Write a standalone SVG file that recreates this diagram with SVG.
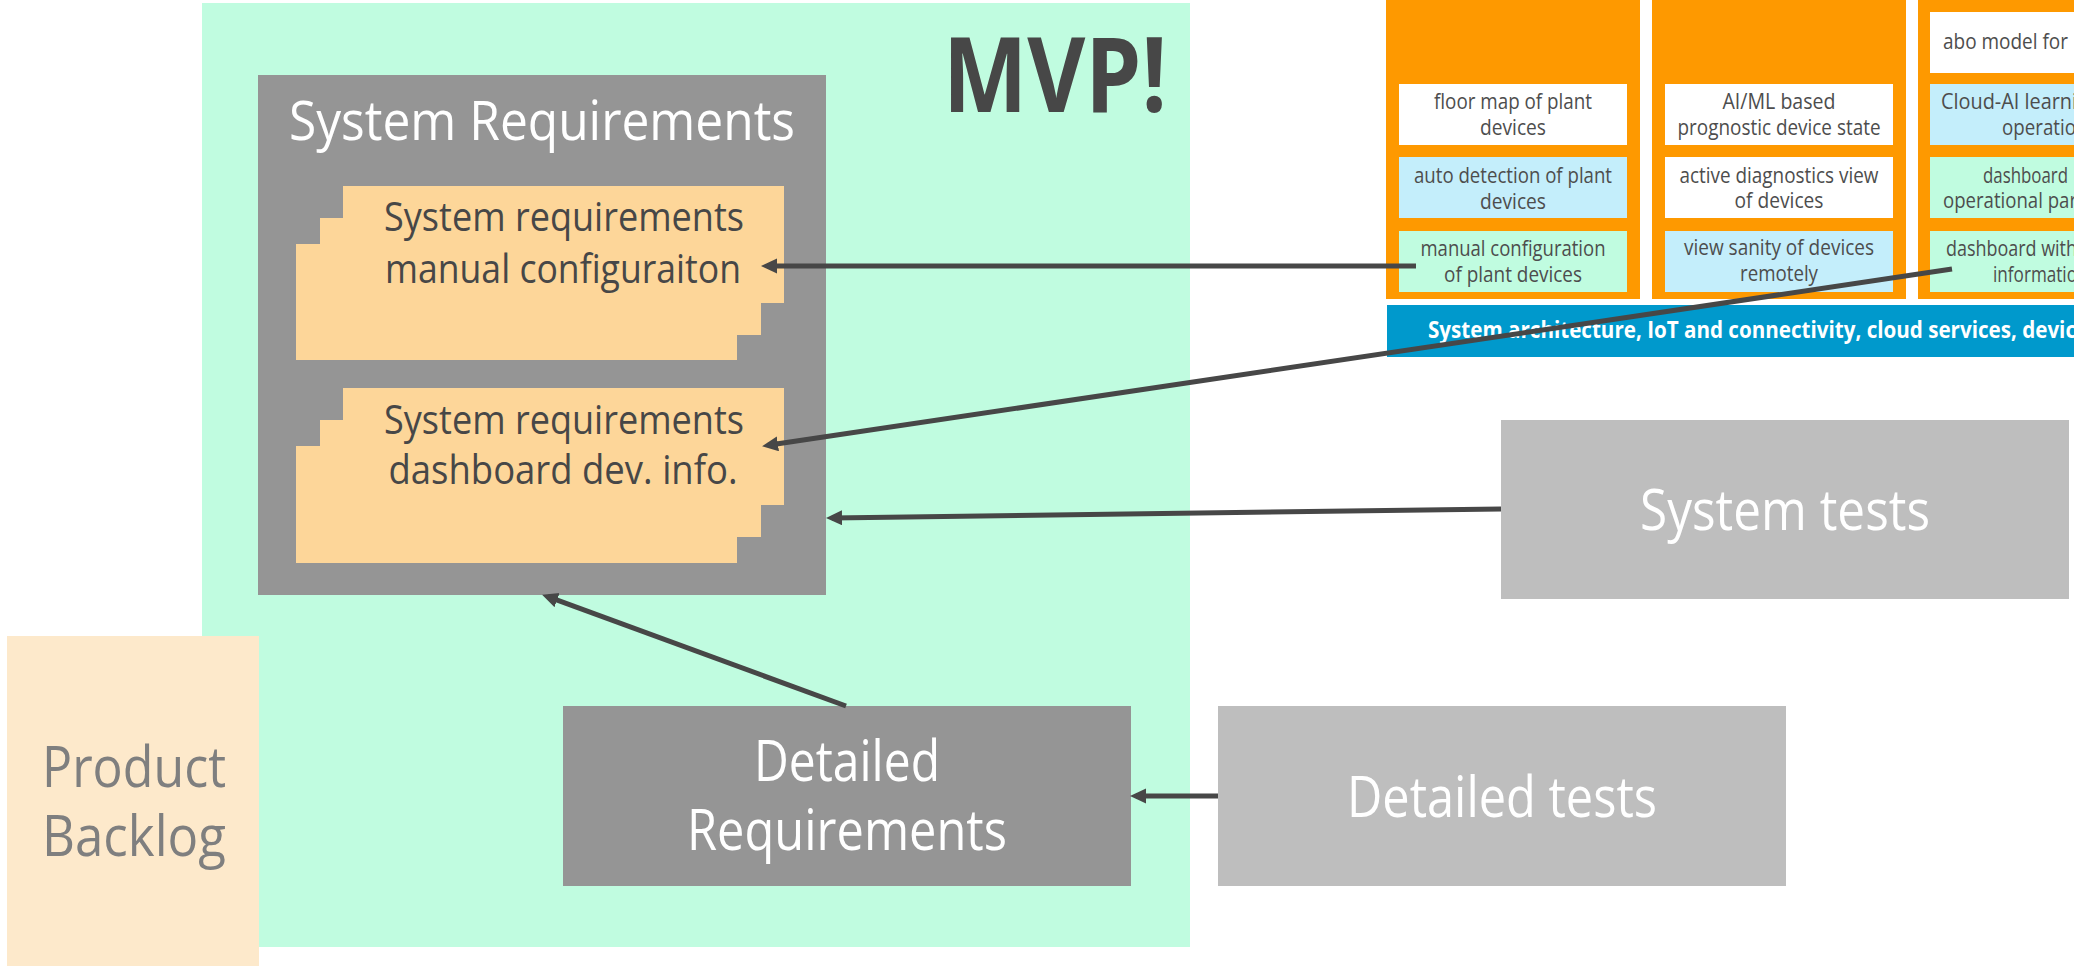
<svg xmlns="http://www.w3.org/2000/svg" width="2074" height="966" viewBox="0 0 2074 966">
<defs>
<style>
.t{font-family:"Open Sans","Liberation Sans",sans-serif;}
.sm{font-family:"Open Sans","Liberation Sans",sans-serif;font-size:21px;fill:#4d4d4d;}
.smc{font-family:"Open Sans","Liberation Sans",sans-serif;font-size:21px;fill:#4d4d4d;text-anchor:middle;}
.blk{font-family:"Open Sans","Liberation Sans",sans-serif;font-size:40px;fill:#474747;text-anchor:middle;}
.lbl{font-family:"Open Sans","Liberation Sans",sans-serif;font-size:57px;fill:#ffffff;text-anchor:middle;}
.conn{stroke:#474747;stroke-width:5;fill:none;marker-end:url(#ah);}
.white{fill:#ffffff;}
.lblue{fill:#c4eefb;}
.mint{fill:#c0fce0;}
.orange{fill:#fe9900;}
.gray{fill:#959595;}
.lgray{fill:#bebebe;}
.peach{fill:#fdd699;}
</style>
<marker id="ah" markerUnits="userSpaceOnUse" markerWidth="18" markerHeight="16" refX="10" refY="7.5" orient="auto">
<path d="M0,0 L16,7.5 L0,15 z" fill="#474747"/>
</marker>
</defs>
<rect width="2074" height="966" fill="#ffffff"/>

<g id="mvp">
<rect x="202" y="3" width="988" height="944" class="mint"/>
<text x="1055" y="112" class="t" font-size="104" font-weight="bold" fill="#474747" text-anchor="middle" textLength="224" lengthAdjust="spacingAndGlyphs">MVP!</text>
</g>

<g id="product-backlog">
<rect x="7" y="636" width="252" height="330" fill="#fde9cb"/>
<text x="134" y="787" class="t" font-size="57" fill="#7f7f7f" text-anchor="middle" textLength="184" lengthAdjust="spacingAndGlyphs">Product</text>
<text x="134" y="856" class="t" font-size="57" fill="#7f7f7f" text-anchor="middle" textLength="184" lengthAdjust="spacingAndGlyphs">Backlog</text>
</g>

<g id="system-requirements">
<rect x="258" y="75" width="568" height="520" class="gray"/>
<text x="542" y="140" class="t" font-size="55" fill="#ffffff" text-anchor="middle" textLength="506" lengthAdjust="spacingAndGlyphs">System Requirements</text>
</g>

<g id="sysreq-manual-config">
<polygon points="343,186 784,186 784,303 761,303 761,335 737,335 737,360 296,360 296,244 320,244 320,218 343,218" class="peach"/>
<text x="564" y="231" class="blk" textLength="360" lengthAdjust="spacingAndGlyphs">System requirements</text>
<text x="563" y="283" class="blk" textLength="356" lengthAdjust="spacingAndGlyphs">manual configuraiton</text>
</g>

<g id="sysreq-dashboard">
<polygon points="343,388 784,388 784,505 761,505 761,537 737,537 737,563 296,563 296,446 320,446 320,420 343,420" class="peach"/>
<text x="564" y="434" class="blk" textLength="360" lengthAdjust="spacingAndGlyphs">System requirements</text>
<text x="563" y="484" class="blk" textLength="349" lengthAdjust="spacingAndGlyphs">dashboard dev. info.</text>
</g>

<g id="detailed-requirements">
<rect x="563" y="706" width="568" height="180" class="gray"/>
<text x="847" y="781" class="lbl" textLength="186" lengthAdjust="spacingAndGlyphs">Detailed</text>
<text x="847" y="850" class="lbl" textLength="320" lengthAdjust="spacingAndGlyphs">Requirements</text>
</g>

<g id="system-tests">
<rect x="1501" y="420" width="568" height="179" class="lgray"/>
<text x="1785" y="530" class="lbl" textLength="290" lengthAdjust="spacingAndGlyphs">System tests</text>
</g>

<g id="detailed-tests">
<rect x="1218" y="706" width="568" height="180" class="lgray"/>
<text x="1502" y="817" class="lbl" textLength="310" lengthAdjust="spacingAndGlyphs">Detailed tests</text>
</g>

<g id="feature-column-1">
<rect x="1386" y="0" width="254" height="299" class="orange"/>
<rect x="1399" y="84" width="228" height="61" class="white"/>
<text x="1513" y="109" class="smc" textLength="158" lengthAdjust="spacingAndGlyphs">floor map of plant</text>
<text x="1513" y="135" class="smc" textLength="66" lengthAdjust="spacingAndGlyphs">devices</text>
<rect x="1399" y="157" width="228" height="61" class="lblue"/>
<text x="1513" y="183" class="smc" textLength="198" lengthAdjust="spacingAndGlyphs">auto detection of plant</text>
<text x="1513" y="209" class="smc" textLength="66" lengthAdjust="spacingAndGlyphs">devices</text>
<rect x="1399" y="231" width="228" height="61" class="mint"/>
<text x="1513" y="256" class="smc" textLength="185" lengthAdjust="spacingAndGlyphs">manual configuration</text>
<text x="1513" y="282" class="smc" textLength="138" lengthAdjust="spacingAndGlyphs">of plant devices</text>
</g>

<g id="feature-column-2">
<rect x="1652" y="0" width="254" height="299" class="orange"/>
<rect x="1665" y="84" width="228" height="61" class="white"/>
<text x="1779" y="109" class="smc" textLength="113" lengthAdjust="spacingAndGlyphs">AI/ML based</text>
<text x="1779" y="135" class="smc" textLength="203" lengthAdjust="spacingAndGlyphs">prognostic device state</text>
<rect x="1665" y="157" width="228" height="61" class="white"/>
<text x="1779" y="183" class="smc" textLength="199" lengthAdjust="spacingAndGlyphs">active diagnostics view</text>
<text x="1779" y="208" class="smc" textLength="89" lengthAdjust="spacingAndGlyphs">of devices</text>
<rect x="1665" y="231" width="228" height="61" class="lblue"/>
<text x="1779" y="255" class="smc" textLength="190" lengthAdjust="spacingAndGlyphs">view sanity of devices</text>
<text x="1779" y="281" class="smc" textLength="78" lengthAdjust="spacingAndGlyphs">remotely</text>
</g>

<g id="feature-column-3">
<rect x="1918" y="0" width="160" height="299" class="orange"/>
<rect x="1930" y="12" width="150" height="61" class="white"/>
<text x="1943" y="49" class="sm" textLength="125" lengthAdjust="spacingAndGlyphs">abo model for</text>
<rect x="1930" y="84" width="150" height="61" class="lblue"/>
<text x="1941" y="109" class="sm" textLength="136" lengthAdjust="spacingAndGlyphs">Cloud-AI learni</text>
<text x="2002" y="135" class="sm" textLength="74" lengthAdjust="spacingAndGlyphs">operatio</text>
<rect x="1930" y="157" width="150" height="61" class="mint"/>
<text x="1983" y="183" class="sm" textLength="85" lengthAdjust="spacingAndGlyphs">dashboard</text>
<text x="1943" y="208" class="sm" textLength="134" lengthAdjust="spacingAndGlyphs">operational par</text>
<rect x="1930" y="231" width="150" height="61" class="mint"/>
<text x="1946" y="256" class="sm" textLength="131" lengthAdjust="spacingAndGlyphs">dashboard with</text>
<text x="1993" y="282" class="sm" textLength="84" lengthAdjust="spacingAndGlyphs">informatio</text>
</g>

<g id="architecture-bar">
<rect x="1387" y="305" width="690" height="52" fill="#0099cc"/>
<text x="1428" y="338" class="t" font-size="24" font-weight="bold" fill="#ffffff" textLength="648" lengthAdjust="spacingAndGlyphs">System architecture, IoT and connectivity, cloud services, devic</text>
</g>

<g id="connectors">
<line x1="1416" y1="266" x2="767" y2="266" class="conn"/>
<line x1="1952" y1="269" x2="768" y2="445.3" class="conn"/>
<line x1="1501" y1="509" x2="832" y2="517.9" class="conn"/>
<line x1="846" y1="706" x2="547.7" y2="596.7" class="conn"/>
<line x1="1218" y1="796" x2="1136" y2="796" class="conn"/>
</g>
</svg>
